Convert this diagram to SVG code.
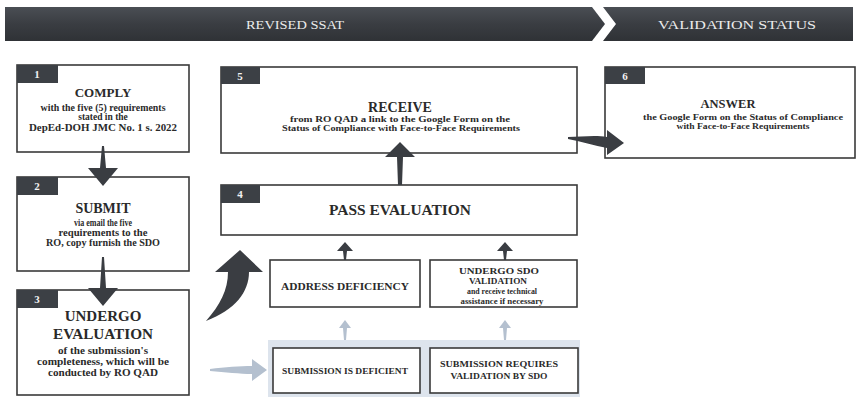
<svg xmlns="http://www.w3.org/2000/svg" width="858" height="397" viewBox="0 0 858 397">
<defs>
<linearGradient id="bn" x1="0" y1="0" x2="0" y2="1">
<stop offset="0" stop-color="#4a4e54"/>
<stop offset="0.5" stop-color="#3a3d42"/>
<stop offset="1" stop-color="#2f3236"/>
</linearGradient>
<style>
.box{fill:#fff;stroke:#3a3a3a;stroke-width:1.6}
.tab{fill:#3c4045}
.num{fill:#f2f2f2;font-family:"Liberation Serif",serif;font-size:11px;font-weight:bold;text-anchor:middle}
.ttl{fill:#2a2a2a;font-family:"Liberation Serif",serif;font-weight:bold;text-anchor:middle}
.bd{fill:#2a2a2a;font-family:"Liberation Serif",serif;font-weight:bold;text-anchor:middle}
.ban{fill:#ececec;font-family:"Liberation Serif",serif;font-size:13px;text-anchor:middle}
.dk{fill:#3a3d42}
.lt{fill:#b4c0cf}
</style>
</defs>
<rect width="858" height="397" fill="#fff"/>

<g id="banner">
<path d="M5,7 L592,7 L605,24 L592,41 L5,41 Z" fill="url(#bn)"/>
<path d="M603,7 L853,7 L853,41 L603,41 L616,24 Z" fill="url(#bn)"/>
<text class="ban" x="295" y="29" textLength="98" lengthAdjust="spacingAndGlyphs">REVISED SSAT</text>
<text class="ban" x="737" y="29" textLength="158" lengthAdjust="spacingAndGlyphs">VALIDATION STATUS</text>
</g>

<g id="band">
<rect x="268" y="340" width="312" height="57" fill="#dde4ed"/>
</g>

<g id="n1">
<rect class="box" x="17" y="65" width="172" height="87"/>
<rect class="tab" x="17" y="65" width="41" height="18"/>
<text class="num" x="37" y="78">1</text>
<text class="ttl" x="103" y="97" font-size="13">COMPLY</text>
<text class="bd" x="103" y="111" font-size="9.5" textLength="125" lengthAdjust="spacingAndGlyphs">with the five (5) requirements</text>
<text class="bd" x="103" y="120" font-size="9.5">stated in the</text>
<text class="bd" x="103" y="131" font-size="10.5" textLength="148" lengthAdjust="spacingAndGlyphs">DepEd-DOH JMC No. 1 s. 2022</text>
</g>

<g id="n2">
<rect class="box" x="17" y="177" width="172" height="94"/>
<rect class="tab" x="17" y="177" width="41" height="18"/>
<text class="num" x="37" y="190">2</text>
<text class="ttl" x="103" y="213" font-size="14">SUBMIT</text>
<text class="bd" x="103" y="226" font-size="9.5" textLength="58" lengthAdjust="spacingAndGlyphs">via email the five</text>
<text class="bd" x="103" y="236" font-size="9.5" textLength="89" lengthAdjust="spacingAndGlyphs">requirements to the</text>
<text class="bd" x="103" y="246" font-size="9.5" textLength="114" lengthAdjust="spacingAndGlyphs">RO, copy furnish the SDO</text>
</g>

<g id="n3">
<rect class="box" x="17" y="290" width="172" height="105"/>
<rect class="tab" x="17" y="290" width="41" height="18"/>
<text class="num" x="37" y="303">3</text>
<text class="ttl" x="103" y="321" font-size="15">UNDERGO</text>
<text class="ttl" x="103" y="339" font-size="15" textLength="100" lengthAdjust="spacingAndGlyphs">EVALUATION</text>
<text class="bd" x="103" y="354" font-size="9.5" textLength="90" lengthAdjust="spacingAndGlyphs">of the submission's</text>
<text class="bd" x="103" y="365" font-size="9.5" textLength="132" lengthAdjust="spacingAndGlyphs">completeness, which will be</text>
<text class="bd" x="103" y="376" font-size="9.5" textLength="110" lengthAdjust="spacingAndGlyphs">conducted by RO QAD</text>
</g>

<g id="n5">
<rect class="box" x="221" y="67" width="356" height="86"/>
<rect class="tab" x="221" y="67" width="39" height="17"/>
<text class="num" x="240" y="80">5</text>
<text class="ttl" x="400" y="112" font-size="14">RECEIVE</text>
<text class="bd" x="400" y="122" font-size="8.5" textLength="220" lengthAdjust="spacingAndGlyphs">from RO QAD a link to the  Google Form on the</text>
<text class="bd" x="401" y="131" font-size="8.5" textLength="238" lengthAdjust="spacingAndGlyphs">Status of Compliance with Face-to-Face Requirements</text>
</g>

<g id="n6">
<rect class="box" x="605" y="67" width="250" height="91"/>
<rect class="tab" x="605" y="67" width="40" height="17"/>
<text class="num" x="625" y="80">6</text>
<text class="ttl" x="728" y="108" font-size="12.5">ANSWER</text>
<text class="bd" x="743" y="120" font-size="8.5" textLength="200" lengthAdjust="spacingAndGlyphs">the Google Form on  the Status of Compliance</text>
<text class="bd" x="743" y="129" font-size="8.5" textLength="133" lengthAdjust="spacingAndGlyphs">with Face-to-Face Requirements</text>
</g>

<g id="n4">
<rect class="box" x="221" y="185" width="356" height="50"/>
<rect class="tab" x="221" y="185" width="39" height="18"/>
<text class="num" x="240" y="198">4</text>
<text class="ttl" x="400" y="215" font-size="15" textLength="142" lengthAdjust="spacingAndGlyphs">PASS EVALUATION</text>
</g>

<g id="n4a">
<rect class="box" x="270" y="260" width="150" height="47"/>
<text class="bd" x="345" y="290" font-size="9.5" textLength="128" lengthAdjust="spacingAndGlyphs">ADDRESS DEFICIENCY</text>
</g>

<g id="n4b">
<rect class="box" x="430" y="260" width="147" height="47"/>
<text class="bd" x="499" y="274" font-size="9" textLength="80" lengthAdjust="spacingAndGlyphs">UNDERGO SDO</text>
<text class="bd" x="498" y="284" font-size="9" textLength="58" lengthAdjust="spacingAndGlyphs">VALIDATION</text>
<text class="bd" x="502" y="294" font-size="8" textLength="70" lengthAdjust="spacingAndGlyphs">and receive technical</text>
<text class="bd" x="502" y="304" font-size="8" textLength="83" lengthAdjust="spacingAndGlyphs">assistance if necessary</text>
</g>

<g id="n3a">
<rect class="box" x="273" y="348" width="147" height="45"/>
<text class="bd" x="345" y="374" font-size="9" textLength="126" lengthAdjust="spacingAndGlyphs">SUBMISSION IS DEFICIENT</text>
</g>

<g id="n3b">
<rect class="box" x="430" y="348" width="148" height="45"/>
<text class="bd" x="499" y="367" font-size="9" textLength="118" lengthAdjust="spacingAndGlyphs">SUBMISSION REQUIRES</text>
<text class="bd" x="499" y="379" font-size="9" textLength="97" lengthAdjust="spacingAndGlyphs">VALIDATION BY SDO</text>
</g>

<g id="connectors">
<path class="dk" d="M102,146 L104,146 L106,168 L118,168 L103,186 L88,168 L100,168 Z"/>
<path class="dk" d="M102,257 L104,257 L106,288 L118,288 L103,306 L88,288 L100,288 Z"/>
<path class="dk" d="M400,142 L415,157 L403,157 L402,185 L398,185 L397,157 L385,157 Z"/>
<path class="dk" d="M345,242 L353,251 L347,251 L346,260 L344,260 L343,251 L337,251 Z"/>
<path class="dk" d="M505,242 L513,251 L507,251 L506,260 L504,260 L503,251 L497,251 Z"/>
<path class="dk" d="M240,250 L263,272 L249,272 C249,292 235,310 206,321 C220,305 228,290 228,272 L215,272 Z"/>
<path class="dk" d="M568,137 C580,137 595,135 607,137 L607,130 L624,143 L607,155 L607,148 C595,146 580,141 568,139 Z"/>
<path class="lt" d="M345,320 L351,328 L347,328 L346,340 L344,340 L343,328 L339,328 Z"/>
<path class="lt" d="M505,320 L511,328 L507,328 L506,340 L504,340 L503,328 L499,328 Z"/>
<path class="lt" d="M210,369 C225,367 240,366 252,366 L252,359 L267,370 L252,381 L252,374 C240,374 225,372 210,371 Z"/>
</g>
</svg>
